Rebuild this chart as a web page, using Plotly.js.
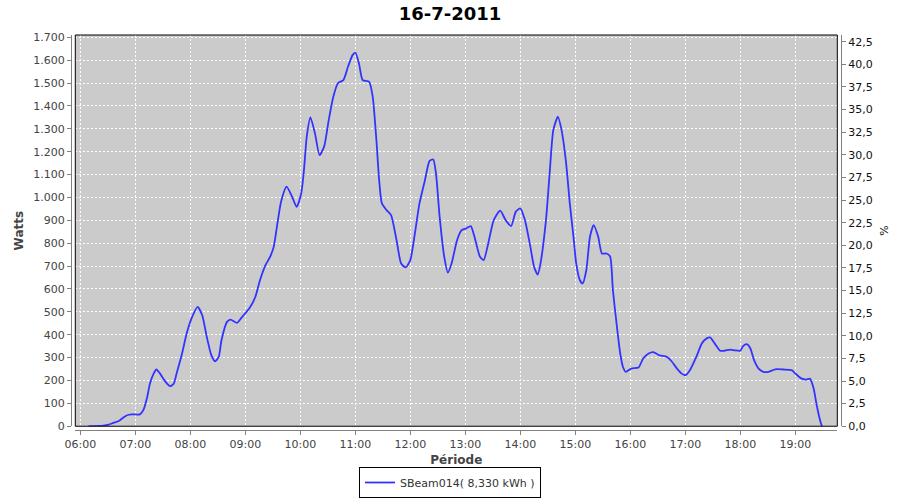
<!DOCTYPE html>
<html>
<head>
<meta charset="utf-8">
<script src="https://cdn.plot.ly/plotly-3.0.1.min.js"></script>
<style>html,body{margin:0;padding:0;background:#fff;}#chart{width:900px;height:500px;}</style>
</head>
<body>
<div id="chart"></div>
<script>
const chartTitle = "16-7-2011";
const seriesName = "SBeam014( 8,330 kWh )";
const day = "2011-07-16";
const times = ["06:09","06:25","06:31","06:36","06:42","06:47","06:51","06:56","07:05","07:09","07:13","07:16","07:20","07:23","07:27","07:33","07:38","07:42","07:45","07:51","07:56","08:02","08:08","08:13","08:18","08:23","08:27","08:31","08:34","08:40","08:44","08:51","08:56","09:05","09:11","09:16","09:22","09:27","09:31","09:35","09:39","09:45","09:51","09:56","10:01","10:04","10:07","10:11","10:16","10:21","10:26","10:31","10:36","10:41","10:47","10:52","10:57","11:00","11:04","11:08","11:15","11:19","11:23","11:26","11:29","11:34","11:39","11:45","11:50","11:55","12:00","12:05","12:10","12:16","12:21","12:25","12:28","12:32","12:37","12:41","12:45","12:51","12:56","13:01","13:06","13:10","13:16","13:20","13:25","13:31","13:38","13:44","13:50","13:55","14:00","14:05","14:11","14:15","14:19","14:22","14:28","14:32","14:36","14:41","14:45","14:50","14:54","14:58","15:01","15:05","15:08","15:12","15:16","15:20","15:25","15:29","15:34","15:38","15:41","15:45","15:49","15:52","15:55","16:01","16:09","16:14","16:20","16:25","16:32","16:40","16:45","16:51","16:56","17:00","17:05","17:12","17:18","17:23","17:27","17:32","17:38","17:43","17:49","17:54","18:00","18:03","18:07","18:11","18:15","18:20","18:25","18:31","18:38","18:47","18:56","19:01","19:07","19:12","19:16","19:20","19:23","19:27","19:29"];
const watts = [0,3,7,15,23,38,48,52,52,73,128,187,230,248,230,194,175,187,230,318,405,478,522,485,390,310,284,303,376,456,466,452,475,519,566,638,704,740,784,886,981,1047,1003,959,1018,1120,1265,1350,1280,1185,1222,1338,1440,1499,1513,1571,1622,1633,1586,1513,1506,1440,1251,1076,974,945,923,813,711,694,726,843,974,1076,1160,1166,1105,915,741,671,711,813,857,865,875,828,741,726,799,901,942,901,875,937,952,901,784,697,663,711,901,1105,1294,1353,1294,1149,974,828,711,638,624,682,828,879,828,755,755,741,595,449,318,259,238,252,257,296,318,324,310,303,284,252,230,223,245,303,362,383,388,362,330,330,335,332,330,350,359,340,289,252,238,238,249,248,245,227,208,204,208,165,99,26,0];
const xRange = ["2011-07-16 05:54:33","2011-07-16 19:45:49"];
const wattsRange = [0, 1710];
const pctRange = [0, 43.24];

const xs = times.map(t => day + " " + t);

const trace = {
  x: xs, y: watts, type: "scatter", mode: "lines", name: seriesName,
  line: {color: "#3333ff", width: 1.8, shape: "spline", smoothing: 0.6},
  hoverinfo: "x+y"
};
// empty trace so that the right-hand percentage axis is drawn
const pctAxisTrace = {x: [], y: [], type: "scatter", mode: "lines", yaxis: "y2", showlegend: false, hoverinfo: "skip"};

const font = "DejaVu Sans, Verdana, sans-serif";
const layout = {
  width: 900, height: 500,
  margin: {l: 71, r: 59, t: 35, b: 70},
  paper_bgcolor: "#ffffff",
  plot_bgcolor: "#cbcbcb",
  separators: ",.",
  font: {family: font, size: 11, color: "#444"},
  title: {text: "<b>" + chartTitle + "</b>", font: {family: font, size: 18, color: "#000"},
          xref: "container", x: 0.5, xanchor: "center", yref: "container", y: 0.972, yanchor: "middle"},
  showlegend: true,
  legend: {orientation: "h", xref: "container", x: 0.5, xanchor: "center", yref: "container", y: 0.004, yanchor: "bottom",
           bordercolor: "#000", borderwidth: 1, bgcolor: "#fff", font: {family: font, size: 11, color: "#333"},
           itemwidth: 30, tracegroupgap: 0},
  xaxis: {
    type: "date", range: xRange, domain: [0.0056, 0.9952],
    anchor: "free", position: 0,
    tickformat: "%H:%M", dtick: 3600000, tick0: "2011-07-16 06:00",
    ticks: "outside", ticklen: 4, tickcolor: "#808080", tickwidth: 1,
    showline: true, linecolor: "#808080", linewidth: 1,
    showgrid: true, gridcolor: "#ffffff", gridwidth: 1, griddash: "2px,2px",
    zeroline: false, tickfont: {size: 11, color: "#444"},
    title: {text: "<b>Période</b>", font: {family: font, size: 12, color: "#444"}, standoff: 6}
  },
  yaxis: {
    range: wattsRange, domain: [0.0095, 1],
    anchor: "free", position: 0,
    dtick: 100, tick0: 0, tickformat: ",.0f",
    ticks: "outside", ticklen: 4, tickcolor: "#808080", tickwidth: 1,
    showline: true, linecolor: "#808080", linewidth: 1,
    showgrid: true, gridcolor: "#ffffff", gridwidth: 1, griddash: "2px,2px",
    zeroline: false, tickfont: {size: 11, color: "#444"},
    title: {text: "<b>Watts</b>", font: {family: font, size: 12, color: "#444"}, standoff: 6}
  },
  yaxis2: {
    range: pctRange, overlaying: "y", side: "right",
    anchor: "free", position: 1,
    dtick: 2.5, tick0: 0, tickformat: ".1f",
    ticks: "outside", ticklen: 4, tickcolor: "#808080", tickwidth: 1,
    showline: true, linecolor: "#808080", linewidth: 1,
    showgrid: false, zeroline: false, tickfont: {size: 11, color: "#111"},
    title: {text: "%", font: {family: font, size: 11, color: "#111"}, standoff: 8}
  },
  shapes: [{type: "rect", xref: "x domain", yref: "y domain", x0: 0, x1: 1, y0: 0, y1: 1,
            line: {color: "#000", width: 1}, fillcolor: "rgba(0,0,0,0)", layer: "above"}]
};

Plotly.newPlot("chart", [trace, pctAxisTrace], layout, {displayModeBar: false, staticPlot: true});
</script>
</body>
</html>
